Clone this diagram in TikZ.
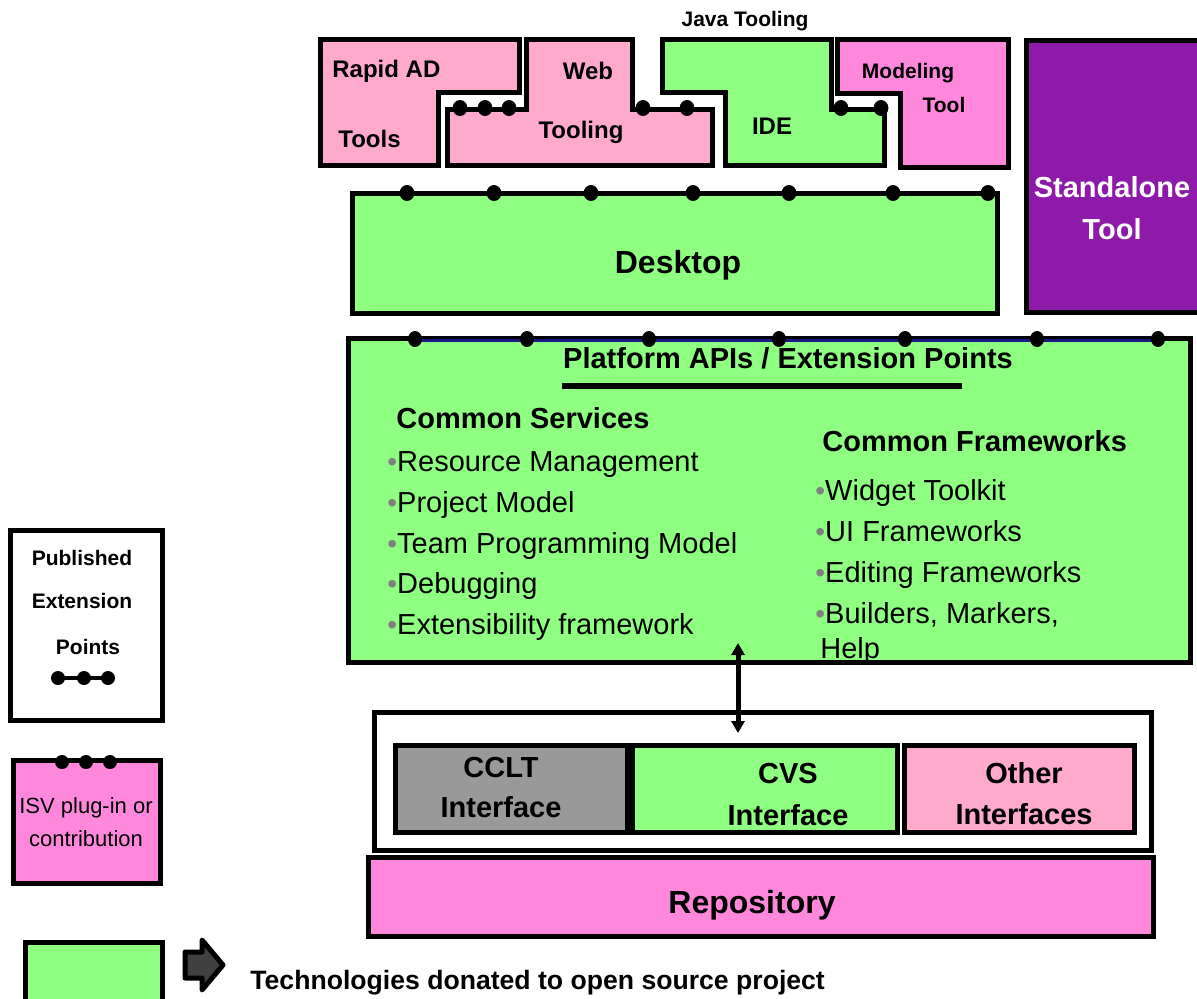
\documentclass[tikz,border=0pt]{standalone}
\usepackage{fontspec}
\setmainfont{Liberation Sans}
\usepackage{tikz}
\usetikzlibrary{arrows.meta,calc}
\usepackage{xcolor}
\definecolor{brightgreen}{RGB}{142,255,128}
\definecolor{softpink}{RGB}{255,170,204}
\definecolor{hotpink}{RGB}{255,136,221}
\definecolor{deeppurple}{RGB}{142,26,170}
\definecolor{ccltgray}{RGB}{153,153,153}
\definecolor{navyblue}{RGB}{25,25,130}
\definecolor{bulletgray}{RGB}{128,128,128}
\newcommand{\fsz}[1]{\fontsize{#1}{#1}\selectfont}
\newcommand{\itembullet}{{\color{bulletgray}\fsz{14}\textbullet}}

\tikzset{
    blockline/.style={draw=black,line width=2.5pt},
    panel/.style={rectangle,blockline,anchor=north west,inner sep=0pt,outer sep=0pt},
    lbl/.style={inner sep=0pt,anchor=base,font=\bfseries\fsz{12}},
    itemtxt/.style={inner sep=0pt,anchor=base west,font=\fsz{14.5}},
    xpoint/.style={fill=black},
    dblarrow/.style={{Triangle[width=6.5pt,length=6pt]}-{Triangle[width=6.5pt,length=6pt]},line width=2.5pt}
}

\begin{document}
\begin{tikzpicture}[x=0.5pt,y=-0.5pt]
        \useasboundingbox (0,0) rectangle (1197,998);

        % Top tools
        \draw[blockline,fill=softpink] (320,39) -- (519,39) -- (519,92) -- (438,92) -- (438,165) -- (320,165) -- cycle;
        \draw[blockline,fill=softpink] (526,39) -- (632,39) -- (632,109) -- (712,109) -- (712,165) -- (447,165) -- (447,109) -- (526,109) -- cycle;
        \draw[blockline,fill=brightgreen] (662,39) -- (831,39) -- (831,109) -- (884,109) -- (884,165) -- (725,165) -- (725,92) -- (662,92) -- cycle;
        \draw[blockline,fill=hotpink] (837,39) -- (1008,39) -- (1008,167) -- (900,167) -- (900,93) -- (837,93) -- cycle;
        \foreach \xx in {460,485,509,643,687,841,881}
            \fill[xpoint] (\xx,108) ellipse [x radius=3.7pt,y radius=4pt];

        \node[lbl,anchor=base west] (rapidtxt) at (332,77) {Rapid AD};
        \node[lbl,anchor=base west] (toolstxt) at (338,147) {Tools};
        \node[lbl] (webtxt) at (588,79) {Web};
        \node[lbl] (webtool) at (581,138) {Tooling};
        \node[lbl,font=\bfseries\fsz{10.5}] (javatxt) at (745,26) {Java Tooling};
        \node[lbl] (idetxt) at (772,134) {IDE};
        \node[lbl,font=\bfseries\fsz{10.5}] (modtxt) at (908,78) {Modeling};
        \node[lbl,font=\bfseries\fsz{10.5}] (modtool) at (944,112) {Tool};

        % Standalone tool
        \node[panel,fill=deeppurple,minimum width=92pt,minimum height=136pt] (standalone) at (1026,40) {};
        \node[lbl,font=\bfseries\fsz{14.5},text=white] (standtxt) at (1112,197) {Standalone};
        \node[lbl,font=\bfseries\fsz{14.5},text=white] (standtool) at (1112,239) {Tool};

        % Desktop
        \node[panel,fill=brightgreen,minimum width=322.5pt,minimum height=60pt] (desktop) at (352,193) {};
        \node[lbl,font=\bfseries\fsz{16}] (desktxt) at (678,273) {Desktop};
        \foreach \xx in {407,494,591,693,789,893,988}
            \fill[xpoint] (\xx,193) ellipse [x radius=3.7pt,y radius=4pt];

        % Platform
        \node[panel,fill=brightgreen,minimum width=421pt,minimum height=162pt] (platform) at (348,338) {};
        \draw[navyblue,line width=1.5pt] (415,340) -- (1158,340);
        \foreach \xx in {415,527,649,779,905,1037,1158}
            \fill[xpoint] (\xx,339) ellipse [x radius=3.5pt,y radius=4pt];
        \node[lbl,font=\bfseries\fsz{14.5}] (apititle) at (788,368) {Platform APIs / Extension Points};
        \draw[line width=3pt] (562,386) -- (962,386);

        \node[lbl,anchor=base west,font=\bfseries\fsz{14.5}] (cstitle) at (396,428) {Common Services};
        \foreach \nm/\yy/\txt in {csa/471/Resource Management,csb/512/Project Model,csc/553/Team Programming Model,csd/593/Debugging,cse/634/Extensibility framework}
            \node[itemtxt] (\nm) at (387,\yy) {\itembullet\txt};

        \node[lbl,anchor=base west,font=\bfseries\fsz{14.5}] (cftitle) at (822,451) {Common Frameworks};
        \foreach \nm/\yy/\txt in {cfa/500/Widget Toolkit,cfb/541/UI Frameworks,cfc/582/Editing Frameworks,cfd/623/{Builders, Markers,}}
            \node[itemtxt] (\nm) at (815,\yy) {\itembullet\txt};
        \node[itemtxt] (cfhelp) at (820,658) {Help};

        % Interfaces
        \node[panel,fill=white,minimum width=388.5pt,minimum height=69pt] (ifaces) at (374,712) {};
        \node[panel,fill=ccltgray,minimum width=116pt,minimum height=43.5pt] (cclt) at (395,745) {};
        \node[panel,fill=brightgreen,minimum width=132.5pt,minimum height=43.5pt] (cvs) at (632,745) {};
        \node[panel,fill=softpink,minimum width=115pt,minimum height=43.5pt] (otherif) at (904,745) {};
        \node[lbl,font=\bfseries\fsz{14.5}] (ccltname) at (501,777) {CCLT};
        \node[lbl,font=\bfseries\fsz{14.5}] (ccltif) at (501,817) {Interface};
        \node[lbl,font=\bfseries\fsz{14.5}] (cvsname) at (788,783) {CVS};
        \node[lbl,font=\bfseries\fsz{14.5}] (cvsif) at (788,825) {Interface};
        \node[lbl,font=\bfseries\fsz{14.5}] (othername) at (1024,783) {Other};
        \node[lbl,font=\bfseries\fsz{14.5}] (otherifs) at (1024,824) {Interfaces};

        \coordinate (arrx) at (738,0);
        \draw[dblarrow] ($(platform.south -| arrx)+(0,-19)$) -- ($(ifaces.north -| arrx)+(0,21)$);

        % Repository
        \node[panel,fill=hotpink,minimum width=392.5pt,minimum height=39.5pt] (repo) at (368,857) {};
        \node[lbl,font=\bfseries\fsz{16}] (repotxt) at (752,913) {Repository};

        % Legend
        \node[panel,fill=white,minimum width=76pt,minimum height=95pt] (legpub) at (10,530) {};
        \node[lbl,font=\bfseries\fsz{10.5}] (pubtxt) at (82,565) {Published};
        \node[lbl,font=\bfseries\fsz{10.5}] (exttxt) at (82,608) {Extension};
        \node[lbl,font=\bfseries\fsz{10.5}] (pointstxt) at (88,654) {Points};
        \draw[line width=2pt] (58,678) -- (108,678);
        \foreach \xx in {58,84,108}
            \fill[xpoint] (\xx,678) ellipse [x radius=3.5pt,y radius=3.5pt];

        \node[panel,fill=hotpink,minimum width=73.5pt,minimum height=61.5pt] (legisv) at (13,760) {};
        \foreach \xx in {62,86,110}
            \fill[xpoint] (\xx,762) ellipse [x radius=3.5pt,y radius=3.5pt];
        \node[lbl,font=\fsz{11}] (isvtxt) at (86,813) {ISV plug-in or};
        \node[lbl,font=\fsz{11}] (contribtxt) at (86,846) {contribution};

        \node[panel,fill=brightgreen,minimum width=68.5pt,minimum height=35pt] (leggreen) at (25,942) {};
        \draw[line width=2.5pt,line join=round,fill=darkgray] (185,952) -- (202,952) -- (202,940) -- (223,965) -- (202,990) -- (202,978) -- (185,978) -- cycle;
        \node[lbl,anchor=base west,font=\bfseries\fsz{13.3}] (techtxt) at (250,989) {Technologies donated to open source project};
\end{tikzpicture}
\end{document}
